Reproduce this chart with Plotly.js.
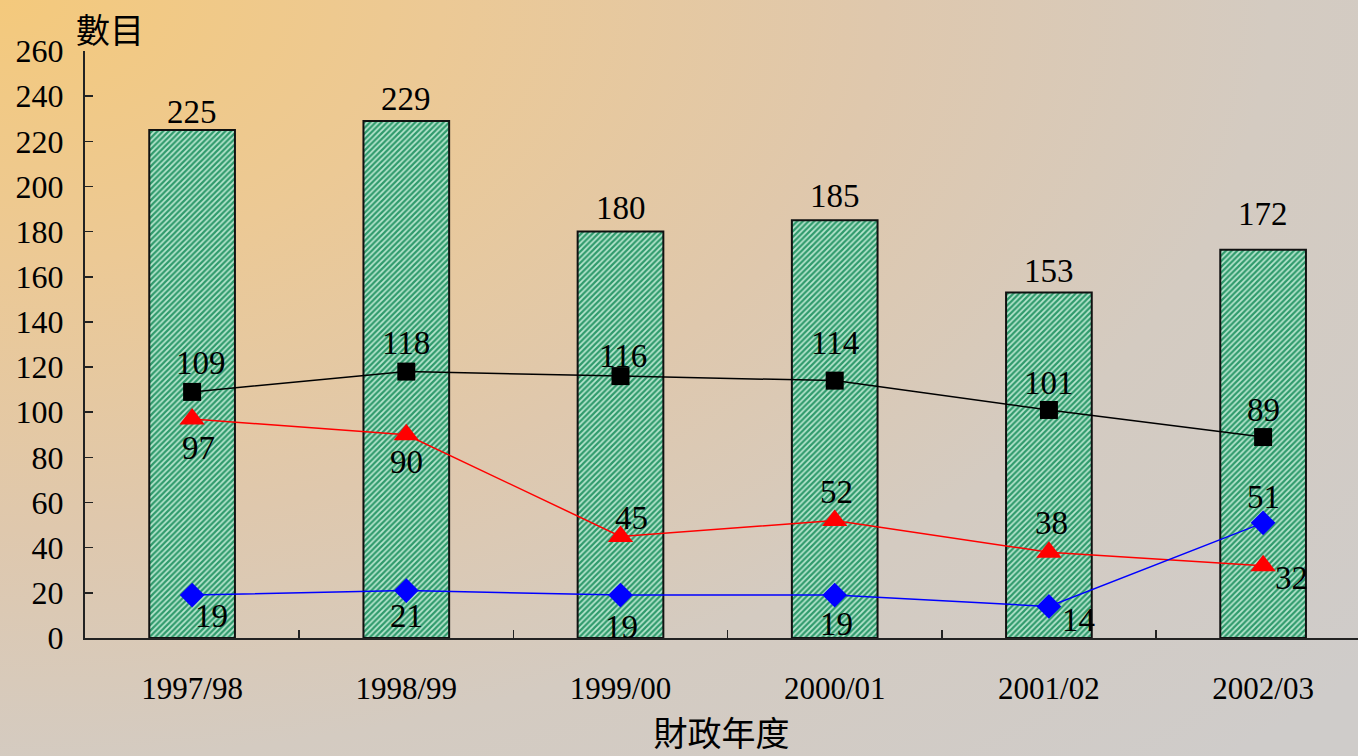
<!DOCTYPE html>
<html>
<head>
<meta charset="utf-8">
<script src="https://cdn.plot.ly/plotly-3.0.1.min.js"></script>
<style>
html,body{margin:0;padding:0;}
#chart{width:1358px;height:756px;
background: radial-gradient(ellipse 130% 140% at 0% 0%, #f4c97c 0%, #ecc995 25%, #dfc8ad 50%, #d4cbc1 72%, #cfccca 100%);}
</style>
</head>
<body>
<div id="chart"></div>
<script>
const years = ["1997/98","1998/99","1999/00","2000/01","2001/02","2002/03"];
const totals = [225, 229, 180, 185, 153, 172];
const blackSeries = [109, 118, 116, 114, 101, 89];
const redSeries = [97, 90, 45, 52, 38, 32];
const blueSeries = [19, 21, 19, 19, 14, 51];
const yTicks = [0,20,40,60,80,100,120,140,160,180,200,220,240,260];

// label offsets in pixels (style only)
const barShift = [[0,18],[0,22],[0,24],[0,24],[0,22],[0,36]];
const blackShift = [[9,29],[0,29],[2,20],[0,38],[0,27],[0,27]];
const redShift = [[6,-29],[0,-27],[11,18],[2,29],[3,29],[28,-12]];
const blueShift = [[19,-21],[0,-25],[1,-32],[2,-29],[30,-14],[0,26]];

const serif = "Liberation Serif, Times New Roman, serif";
const labelFont = {family: serif, size: 33, color: "#000"};

function lineTrace(vals, color, symbol, size) {
  return {
    type: "scatter", mode: "lines+markers", x: years, y: vals,
    line: {color: color, width: 1.5},
    marker: {symbol: symbol, size: size, color: color}, cliponaxis: false,
    showlegend: false, hoverinfo: "skip"
  };
}

const traces = [
  {
    type: "bar", x: years, y: totals, width: 0.4,
    marker: {color: "#9fd9bd", line: {color: "#111", width: 2},
      pattern: {shape: "/", fgcolor: "#2f9a6c", bgcolor: "#b8e6cf", size: 4, solidity: 0.55}},
    hoverinfo: "skip", showlegend: false
  },
  lineTrace(blackSeries, "#000", "square", 18),
  lineTrace(redSeries, "#ff0000", "triangle-up", 22),
  lineTrace(blueSeries, "#0000ff", "diamond", 19)
];

const annotations = [];
function addLabels(vals, shifts, anchor) {
  vals.forEach((v, i) => {
    annotations.push({x: years[i], y: v, xref: "x", yref: "y", text: String(v),
      showarrow: false, xanchor: "center", yanchor: anchor || "middle",
      xshift: shifts[i][0], yshift: shifts[i][1], font: labelFont});
  });
}
addLabels(totals, barShift, "middle");
addLabels(blackSeries, blackShift);
addLabels(redSeries, redShift);
addLabels(blueSeries, blueShift);
annotations.push({
  xref: "paper", yref: "paper", x: -0.009, y: 1.0, yanchor: "bottom", xanchor: "left",
  yshift: -4, showarrow: false, text: "數目",
  font: {family: "Noto Sans CJK TC", size: 34, color: "#000"}
});

const layout = {
  width: 1358, height: 756,
  margin: {l: 85, r: 0, t: 51, b: 118},
  paper_bgcolor: "rgba(0,0,0,0)", plot_bgcolor: "rgba(0,0,0,0)",
  xaxis: {
    type: "category", range: [-0.5, 5.443],
    showline: true, linecolor: "#222", linewidth: 2,
    ticks: "inside", tickson: "boundaries", ticklen: 8, tickcolor: "#222", tickwidth: 1.5,
    showgrid: false, zeroline: false,
    tickfont: {family: serif, size: 31, color: "#000"},
    ticklabelstandoff: 22,
    title: {text: "財政年度", font: {family: "Noto Sans CJK TC", size: 34, color: "#000"}, standoff: 17}
  },
  yaxis: {
    range: [0, 260], tickvals: yTicks, ticktext: yTicks.map(String),
    showline: true, linecolor: "#222", linewidth: 2,
    ticks: "inside", ticklen: 8, tickcolor: "#222", tickwidth: 1.5,
    showgrid: false, zeroline: false,
    tickfont: {family: serif, size: 32, color: "#000"},
    ticklabelstandoff: 13
  },
  annotations: annotations
};

Plotly.newPlot("chart", traces, layout, {displayModeBar: false, staticPlot: true});
</script>
</body>
</html>
